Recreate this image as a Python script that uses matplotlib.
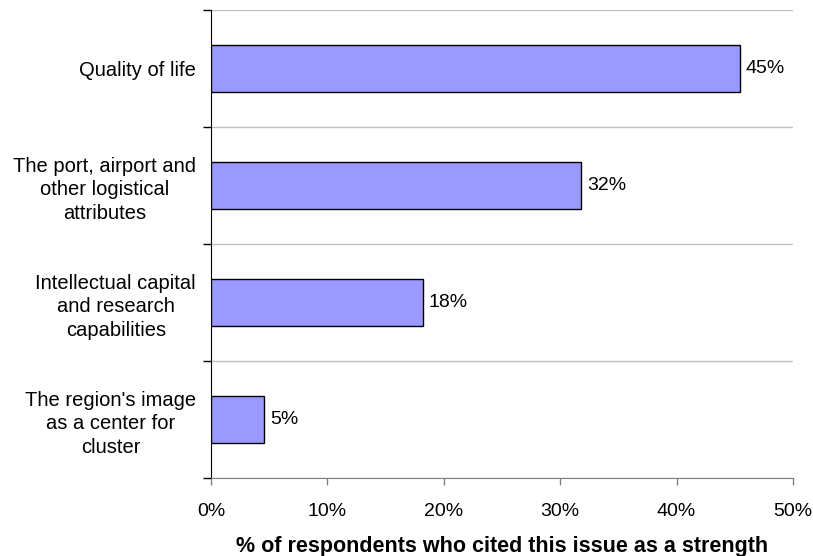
import matplotlib.pyplot as plt
from matplotlib.ticker import FixedLocator, PercentFormatter

plt.rcParams['font.family'] = ['Liberation Sans', 'DejaVu Sans']

# survey results: share of respondents naming each issue as a strength
issues = [
    "Quality of life",
    "The port, airport and\nother logistical\nattributes",
    "Intellectual capital\nand research\ncapabilities",
    "The region's image\nas a center for\ncluster",
]
shares = [45.45, 31.82, 18.18, 4.55]
xticks = [0, 10, 20, 30, 40, 50]

fig = plt.figure(figsize=(8.13, 5.56), dpi=100)
ax = fig.add_axes([211 / 813, 1 - 478 / 556, 582 / 813, 468 / 556])

pos = list(range(len(issues)))
bars = ax.barh(pos, shares, height=0.4, color="#9999FF",
               edgecolor="black", linewidth=1.0, zorder=3)

for b, v in zip(bars, shares):
    ax.text(b.get_width() + 0.5, b.get_y() + b.get_height() / 2,
            f"{v:.0f}%", va="center", ha="left", fontsize=14)

ax.set_xlim(0, 50)
ax.set_ylim(len(issues) - 0.5, -0.5)

# category labels on major ticks, boundaries on minor ticks with grid
ax.set_yticks(pos)
ax.set_yticklabels(issues, fontsize=14.5, ha="right",
                   multialignment="center", linespacing=1.33)
ax.tick_params(axis="y", which="major", length=0, pad=10.8)
ax.yaxis.set_minor_locator(FixedLocator([p - 0.5 for p in pos] + [len(issues) - 0.5]))
ax.tick_params(axis="y", which="minor", length=6, width=1, color="black")
ax.grid(axis="y", which="minor", color="#C0C0C0", linewidth=1, zorder=0)

ax.set_xticks(xticks)
ax.xaxis.set_major_formatter(PercentFormatter(decimals=0))
ax.tick_params(axis="x", length=5, width=1, color="#808080",
               labelsize=14, pad=13)
ax.set_xlabel("% of respondents who cited this issue as a strength",
              fontsize=15.5, fontweight="bold", labelpad=11.5)

for s in ("top", "right"):
    ax.spines[s].set_visible(False)
ax.spines["left"].set_color("black")
ax.spines["bottom"].set_color("#808080")

fig.savefig("out.png", dpi=100)
